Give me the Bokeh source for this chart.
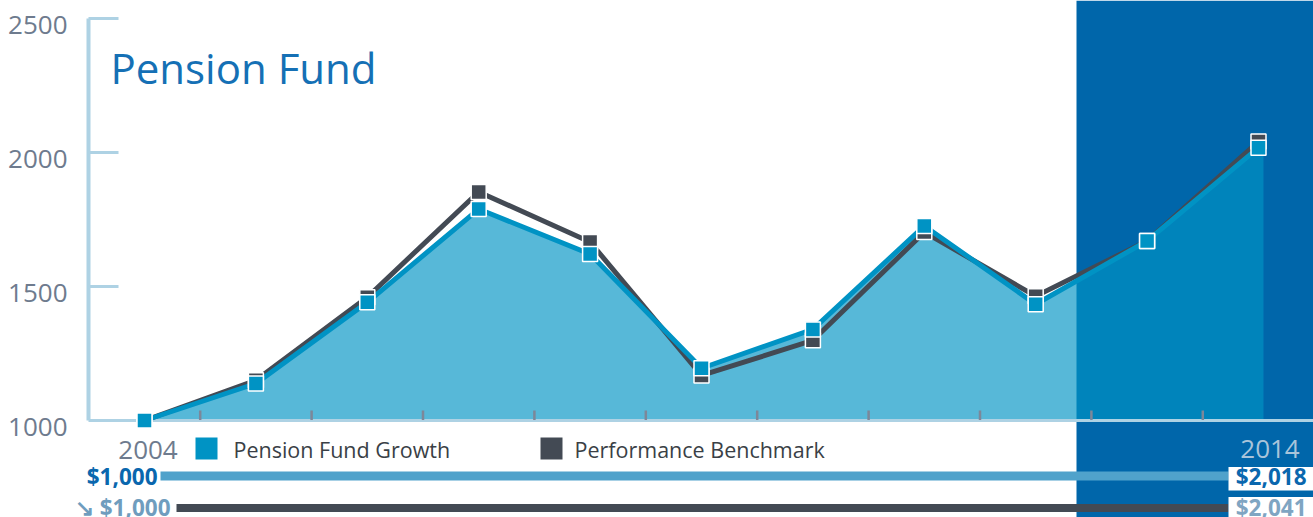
from bokeh.plotting import figure
from bokeh.models import Range1d
from bokeh.core.properties import value
from bokeh.embed import file_html
from bokeh.resources import INLINE

# ---------------- data ----------------
years = [2004, 2005, 2006, 2007, 2008, 2009, 2010, 2011, 2012, 2013, 2014]
growth = [1000, 1138, 1441, 1789, 1621, 1195, 1340, 1726, 1434, 1670, 2018]
benchmark = [1000, 1150, 1460, 1853, 1666, 1168, 1299, 1703, 1464, 1670, 2041]
series_names = ["Pension Fund Growth", "Performance Benchmark"]
y_ticks = [1000, 1500, 2000, 2500]
y_tick_labels = ["1000", "1500", "2000", "2500"]
title_text = "Pension Fund"

# ---------------- layout helpers ----------------
W, H = 1313, 517
PPX = 111.4            # pixels per year
PPY = 402.0 / 1500.0   # pixels per unit
X_START = years[0] - 144 / PPX
X_END = X_START + W / PPX
Y_END = 2500 + 18 / PPY
Y_START = Y_END - H / PPY


def dx(px):
    return X_START + px / PPX


def dy(py):
    return Y_END - py / PPY


FONT = value("Open Sans")
BLUE = "#0093C4"
DARK = "#434A54"
BAND = "#0066AA"
AXIS = "#AED2E4"

p = figure(width=W, height=H, x_range=Range1d(X_START, X_END), y_range=Range1d(Y_START, Y_END),
           output_backend="svg", toolbar_location=None, x_axis_type=None, y_axis_type=None,
           min_border=0, outline_line_color=None, background_fill_color="white",
           border_fill_color="white")
p.grid.visible = False

# highlight band for the latest period
p.quad(left=[dx(1076)], right=[X_END], bottom=[Y_START], top=[Y_END],
       fill_color=BAND, line_color=None)

# area under fund growth
area_x = years + [years[-1] + 5 / PPX]
area_y = growth + [growth[-1]]
p.varea(x=area_x, y1=[y_ticks[0]] * len(area_x), y2=area_y, fill_color=BLUE, fill_alpha=0.66)

# axes lines
p.segment(x0=[dx(88)], y0=[y_ticks[0]], x1=[X_END], y1=[y_ticks[0]], line_color=AXIS, line_width=3)
p.segment(x0=[dx(88)], y0=[y_ticks[0]], x1=[dx(88)], y1=[y_ticks[-1]], line_color=AXIS, line_width=4)
p.segment(x0=[dx(88)] * 3, y0=y_ticks[1:], x1=[dx(118)] * 3, y1=y_ticks[1:],
          line_color=AXIS, line_width=3)
mids = [y + 0.5 for y in years[:-1]]
p.segment(x0=mids, y0=[dy(419.5)] * len(mids), x1=mids, y1=[dy(410)] * len(mids),
          line_color="#7D8799", line_width=2.5)

# y tick labels
p.text(x=[dx(67)] * len(y_ticks), y=[t - 6.5 / PPY for t in y_ticks], text=y_tick_labels,
       text_align="right", text_baseline="middle", text_font=FONT,
       text_font_size="26px", text_color="#6E7B8E")

# series lines & markers
p.line(years, benchmark, line_color=DARK, line_width=5, line_join="miter")
p.line(years, growth, line_color=BLUE, line_width=5, line_join="miter")
p.scatter(years, benchmark, marker="square", size=15, fill_color=DARK,
          line_color="white", line_width=1.5)
p.scatter(years, growth, marker="square", size=15, fill_color=BLUE,
          line_color="white", line_width=1.5)

# title
p.text(x=[dx(110)], y=[dy(67)], text=[title_text], text_align="left",
       text_baseline="middle", text_font=FONT, text_font_size="42px", text_color="#1570B5")

# year labels
p.text(x=[dx(147.5)], y=[dy(449)], text=[str(years[0])], text_align="center",
       text_baseline="middle", text_font=FONT, text_font_size="26px", text_color="#6E7B8E")
p.text(x=[dx(1269.5)], y=[dy(448)], text=[str(years[-1])], text_align="center",
       text_baseline="middle", text_font=FONT, text_font_size="26px", text_color="#A9C4DA")

# legend
p.scatter(x=[dx(206), dx(551)], y=[dy(448)] * 2, marker="square", size=22,
          fill_color=[BLUE, DARK], line_color=None)
p.text(x=[dx(233), dx(574)], y=[dy(449)] * 2, text=series_names, text_align="left",
       text_baseline="middle", text_font=FONT, text_font_size="21.5px", text_color="#3A3F46")

# summary bars
p.hbar(y=[dy(475.5)], left=[dx(160)], right=[dx(1228)], height=9 / PPY,
       fill_color="#50A2CB", line_color=None)
p.hbar(y=[dy(507.5)], left=[dx(176)], right=[dx(1228)], height=8 / PPY,
       fill_color=DARK, line_color=None)

# white boxes for end values
p.quad(left=[dx(1228)] * 2, right=[X_END] * 2, top=[dy(466.5), dy(496.5)],
       bottom=[dy(490), Y_START], fill_color="white", line_color=None)

# start values
p.text(x=[dx(157)], y=[dy(475.5)], text=[f"${growth[0]:,}"], text_align="right",
       text_baseline="middle", text_font=FONT, text_font_size="22.5px",
       text_font_style="bold", text_color="#0A67AE")
p.text(x=[dx(170)], y=[dy(506.5)], text=[f"\u2198 ${benchmark[0]:,}"], text_align="right",
       text_baseline="middle", text_font=FONT, text_font_size="22.5px",
       text_font_style="bold", text_color="#6F9DBE")

# end values
p.text(x=[dx(1306)], y=[dy(475.5)], text=[f"${growth[-1]:,}"], text_align="right",
       text_baseline="middle", text_font=FONT, text_font_size="22.5px",
       text_font_style="bold", text_color="#0A67AE")
p.text(x=[dx(1306)], y=[dy(506.5)], text=[f"${benchmark[-1]:,}"], text_align="right",
       text_baseline="middle", text_font=FONT, text_font_size="22.5px",
       text_font_style="bold", text_color="#7FA5C2")

open("out.html", "w").write(file_html(p, INLINE))
